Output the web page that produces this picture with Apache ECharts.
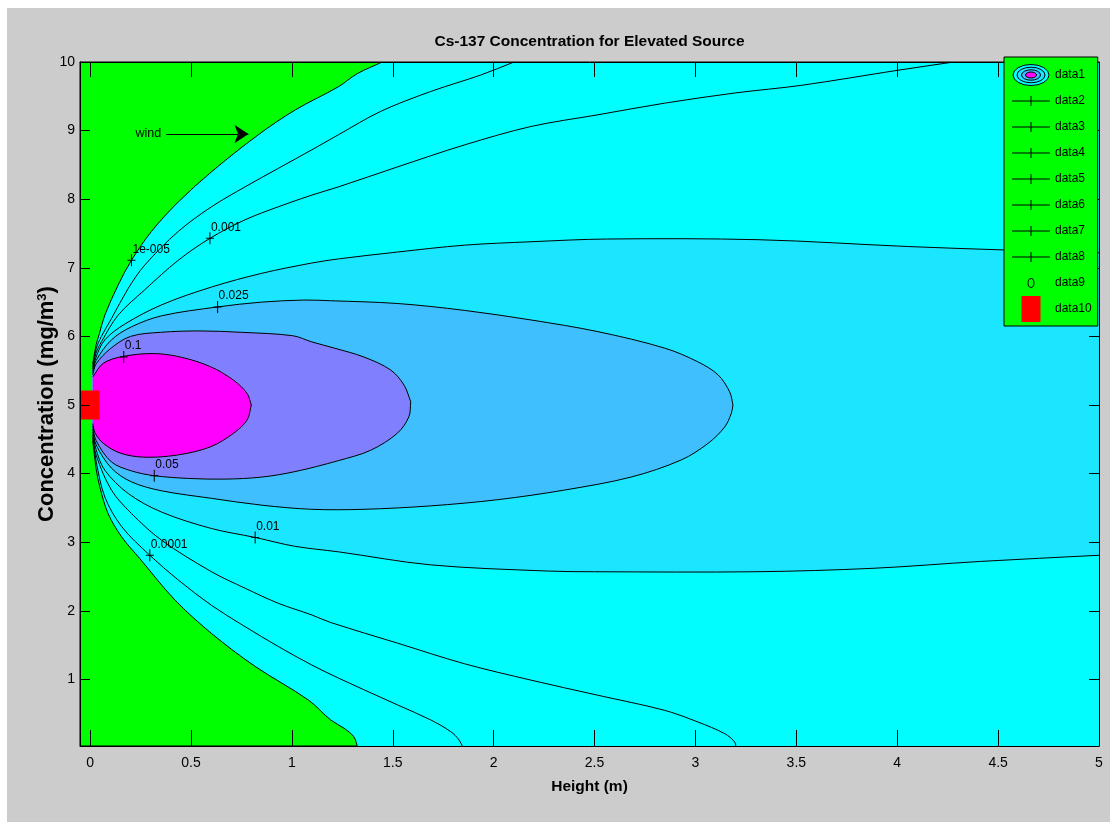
<!DOCTYPE html>
<html>
<head>
<meta charset="utf-8">
<script src="https://cdn.jsdelivr.net/npm/echarts@6/dist/echarts.min.js"></script>
<style>
html,body{margin:0;padding:0;background:#ffffff;}
#chart{width:1110px;height:822px;}
</style>
</head>
<body>
<div id="chart"></div>
<script>
// ---------------- DATA ----------------
const titleText = 'Cs-137 Concentration for Elevated Source';
const xAxisName = 'Height (m)';
const yAxisName = 'Concentration (mg/m{sup|3})';
const xTicks = [0, 0.5, 1, 1.5, 2, 2.5, 3, 3.5, 4, 4.5, 5];
const yTicks = [1, 2, 3, 4, 5, 6, 7, 8, 9, 10];

const levelValues = [1e-5, 1e-4, 1e-3, 0.01, 0.025, 0.05, 0.1];
const levelLabels = ['1e-005', '0.0001', '0.001', '0.01', '0.025', '0.05', '0.1'];
const levelLabelPoints = [[0.205, 7.11], [0.296, 2.81], [0.594, 7.43], [0.818, 3.07], [0.632, 6.43], [0.318, 3.97], [0.167, 5.70]];

// contour branches: upper branch / lower branch (from the source outward)
const c1e5Upper = [[0.013,5.60],[0.030,5.88],[0.046,6.04],[0.073,6.31],[0.139,6.75],[0.205,7.11],[0.304,7.53],[0.437,7.96],[0.602,8.40],[0.834,8.94],[1.016,9.30],[1.231,9.64],[1.324,9.83],[1.448,10]];
const c1e5Lower = [[0.013,4.48],[0.030,4.07],[0.048,3.81],[0.089,3.42],[0.156,3.08],[0.247,2.76],[0.420,2.16],[0.602,1.67],[0.818,1.19],[1.082,0.70],[1.192,0.41],[1.258,0.29],[1.307,0.165],[1.327,0]];
const c1e4Upper = [[0.013,5.56],[0.030,5.82],[0.056,6.00],[0.106,6.26],[0.189,6.70],[0.271,7.04],[0.437,7.53],[0.602,7.89],[0.768,8.18],[0.933,8.45],[1.099,8.72],[1.231,8.94],[1.440,9.28],[1.688,9.57],[1.936,9.81],[2.101,10]];
const c1e4Lower = [[0.013,4.53],[0.030,4.18],[0.073,3.66],[0.156,3.23],[0.296,2.81],[0.437,2.45],[0.602,2.08],[0.768,1.77],[0.933,1.48],[1.099,1.21],[1.231,1.02],[1.357,0.85],[1.523,0.63],[1.688,0.41],[1.787,0.24],[1.828,0.12],[1.850,0]];
const c1e3Upper = [[0.013,5.53],[0.030,5.76],[0.056,5.92],[0.139,6.31],[0.271,6.68],[0.437,7.11],[0.594,7.43],[0.768,7.70],[0.933,7.89],[1.099,8.06],[1.231,8.18],[1.523,8.47],[1.854,8.79],[2.185,9.06],[2.516,9.23],[2.847,9.40],[3.200,9.55],[3.525,9.66],[4.004,9.88],[4.279,10]];
const c1e3Lower = [[0.013,4.57],[0.030,4.27],[0.106,3.76],[0.205,3.42],[0.354,3.03],[0.602,2.57],[0.768,2.33],[0.933,2.11],[1.099,1.94],[1.192,1.83],[1.523,1.53],[1.854,1.23],[2.185,0.99],[2.516,0.77],[2.847,0.55],[3.012,0.38],[3.145,0.21],[3.194,0.09],[3.202,0]];
const c01Upper = [[0.013,5.50],[0.030,5.70],[0.073,5.95],[0.172,6.18],[0.354,6.46],[0.602,6.72],[0.851,6.92],[1.099,7.07],[1.231,7.13],[1.523,7.23],[1.854,7.33],[2.185,7.38],[2.565,7.42],[3.310,7.41],[4.057,7.31],[4.536,7.26],[5.0,7.22]];
const c01Lower = [[0.013,4.61],[0.030,4.35],[0.073,4.05],[0.189,3.71],[0.354,3.44],[0.602,3.20],[0.818,3.07],[1.016,2.94],[1.231,2.86],[1.688,2.67],[2.267,2.58],[2.500,2.57],[3.300,2.57],[3.880,2.62],[4.412,2.72],[5.0,2.81]];
const c025Upper = [[0.013,5.47],[0.030,5.65],[0.106,5.95],[0.205,6.14],[0.354,6.30],[0.632,6.43],[0.850,6.50],[1.059,6.53],[1.192,6.52],[1.523,6.48],[1.854,6.38],[2.185,6.24],[2.516,6.07],[2.847,5.83],[3.012,5.63],[3.112,5.44],[3.170,5.19],[3.186,5.0]];
const c025Lower = [[0.013,4.65],[0.030,4.42],[0.106,4.08],[0.205,3.88],[0.354,3.75],[0.602,3.64],[0.851,3.54],[1.099,3.48],[1.357,3.48],[1.688,3.53],[2.019,3.62],[2.350,3.76],[2.681,3.95],[2.930,4.20],[3.062,4.44],[3.145,4.68],[3.178,4.88],[3.186,5.0]];
const c05Upper = [[0.013,5.44],[0.030,5.60],[0.100,5.82],[0.200,6.00],[0.349,6.06],[0.544,6.08],[0.750,6.06],[1.005,6.01],[1.099,5.92],[1.210,5.83],[1.357,5.70],[1.490,5.51],[1.556,5.29],[1.589,5.05]];
const c05Lower = [[0.013,4.69],[0.030,4.48],[0.106,4.17],[0.205,4.04],[0.318,3.97],[0.487,3.93],[0.669,3.92],[0.851,3.95],[1.016,4.03],[1.231,4.19],[1.390,4.34],[1.523,4.59],[1.580,4.83],[1.589,5.05]];
const c1Upper = [[0.013,5.41],[0.066,5.61],[0.166,5.71],[0.315,5.75],[0.447,5.70],[0.596,5.56],[0.712,5.36],[0.778,5.17],[0.799,5.0]];
const c1Lower = [[0.013,4.73],[0.025,4.59],[0.066,4.44],[0.149,4.30],[0.265,4.24],[0.430,4.27],[0.596,4.39],[0.712,4.59],[0.778,4.78],[0.799,5.0]];
// plot corners used to close the open contours (from lower end round to upper end)
const closeOpen = [[5,0],[5,10]];

const sourcePoint = [0, 5];
const windArrow = [[0.377, 8.95], [0.785, 8.95]];
const windText = 'wind';

// ---------------- STYLES ----------------
const FONT = "'Liberation Sans',Arial,sans-serif";
const bandColors = ['#00ffff', '#00ffff', '#02fdff', '#1ae6ff', '#40bfff', '#8080ff', '#ff00ff'];

const contourUpper = [c1e5Upper, c1e4Upper, c1e3Upper, c01Upper, c025Upper, c05Upper, c1Upper];
const contourLower = [c1e5Lower, c1e4Lower, c1e3Lower, c01Lower, c025Lower, c05Lower, c1Lower];
const contourClose = [closeOpen, closeOpen, closeOpen, [], [], [], []];

const PLUS = 'path://M0,5.5H8V6.5H0ZM3.5,0H4.5V12H3.5Z';
const PLUS_LEGEND = 'path://M0,0L0,0M38,26L38,26M0,12.5H38V13.5H0ZM18.5,8H19.5V18H18.5Z';
const RING_LEGEND = 'path://M0,0L0,0M38,26L38,26M15.5,13A3.5,5,0,1,0,22.5,13A3.5,5,0,1,0,15.5,13ZM16.5,13A2.5,4,0,1,1,21.5,13A2.5,4,0,1,1,16.5,13Z';
const RECT_LEGEND = 'path://M0,0L0,0M38,26L38,26M9.5,0H28.5V26H9.5Z';
const svg1 = "<svg xmlns='http://www.w3.org/2000/svg' width='38' height='26' viewBox='0 0 38 26'>" +
  "<ellipse cx='19' cy='13' rx='18' ry='10.5' fill='#00ffff' stroke='#000' stroke-width='1'/>" +
  "<ellipse cx='19' cy='13' rx='14' ry='7.8' fill='#1ae6ff' stroke='#000' stroke-width='1'/>" +
  "<ellipse cx='19' cy='13' rx='9.5' ry='5.2' fill='#40bfff' stroke='#000' stroke-width='1'/>" +
  "<ellipse cx='19' cy='13' rx='5.5' ry='3' fill='#ff00ff' stroke='#000' stroke-width='1'/></svg>";
const ICON1 = 'image://data:image/svg+xml;charset=utf-8,' + encodeURIComponent(svg1);

// smooth curve through pixel points (chord-length tangents; same curve in both directions)
function curvePath(pts, move) {
  const n = pts.length;
  const d = [];
  for (let i = 0; i < n - 1; i++) {
    d.push(Math.hypot(pts[i + 1][0] - pts[i][0], pts[i + 1][1] - pts[i][1]) || 1e-6);
  }
  const m = pts.map((p, i) => {
    if (i === 0) return [(pts[1][0] - p[0]) / d[0], (pts[1][1] - p[1]) / d[0]];
    if (i === n - 1) return [(p[0] - pts[n - 2][0]) / d[n - 2], (p[1] - pts[n - 2][1]) / d[n - 2]];
    const s = d[i - 1] + d[i];
    return [(pts[i + 1][0] - pts[i - 1][0]) / s, (pts[i + 1][1] - pts[i - 1][1]) / s];
  });
  let str = (move ? 'M' : 'L') + pts[0][0] + ',' + pts[0][1];
  for (let i = 0; i < n - 1; i++) {
    const c1x = pts[i][0] + m[i][0] * d[i] / 3, c1y = pts[i][1] + m[i][1] * d[i] / 3;
    const c2x = pts[i + 1][0] - m[i + 1][0] * d[i] / 3, c2y = pts[i + 1][1] - m[i + 1][1] * d[i] / 3;
    str += 'C' + c1x + ',' + c1y + ',' + c2x + ',' + c2y + ',' + pts[i + 1][0] + ',' + pts[i + 1][1];
  }
  return str;
}

function renderContour(params, api) {
  const i = api.value(0);
  const up = contourUpper[i].map(p => api.coord(p));
  const low = contourLower[i].map(p => api.coord(p));
  const close = contourClose[i].map(p => api.coord(p));
  let area = curvePath(up.slice().reverse(), true) + curvePath(low, false);
  close.forEach(p => { area += 'L' + p[0] + ',' + p[1]; });
  area += 'Z';
  return {
    type: 'group',
    children: [
      { type: 'path', z2: i, shape: { pathData: area }, style: { fill: bandColors[i], stroke: null } },
      { type: 'path', z2: 100 + i, shape: { pathData: curvePath(up, true) }, style: { fill: null, stroke: '#000', lineWidth: 1 } },
      { type: 'path', z2: 100 + i, shape: { pathData: curvePath(low, true) }, style: { fill: null, stroke: '#000', lineWidth: 1 } }
    ]
  };
}

const chart = echarts.init(document.getElementById('chart'), null, { renderer: 'canvas', width: 1110, height: 822 });

const labelSeries = levelLabelPoints.map((p, i) => ({
  name: 'data' + (i + 2),
  type: 'scatter',
  z: 3,
  silent: true,
  data: [p],
  symbol: PLUS,
  symbolSize: [8, 12],
  symbolKeepAspect: false,
  itemStyle: { color: '#000', opacity: 1, borderWidth: 0 },
  label: {
    show: true, position: 'right', distance: 0, offset: [-3, -11],
    formatter: levelLabels[i], color: '#000', fontFamily: FONT, fontSize: 12
  },
  emphasis: { disabled: true }
}));

const axisCommon = {
  type: 'value', z: 6,
  axisLine: { show: true, onZero: false, lineStyle: { color: '#000', width: 1 } },
  splitLine: { show: false }
};

const option = {
  animation: false,
  backgroundColor: '#ffffff',
  textStyle: { fontFamily: FONT },
  graphic: [{
    type: 'rect', left: 7, top: 8, z: -10, silent: true,
    shape: { width: 1103, height: 814 },
    style: { fill: '#cccccc' }
  }],
  title: {
    text: titleText, left: 589.5, top: 33.5, textAlign: 'center', padding: 0,
    textStyle: { fontFamily: FONT, fontWeight: 'bold', fontSize: 15.5, color: '#000' }
  },
  grid: {
    left: 80, right: 11, top: 62, bottom: 76,
    show: true, backgroundColor: '#00ff00', borderColor: '#000', borderWidth: 1,
    outerBoundsMode: 'none', containLabel: false
  },
  legend: {
    orient: 'vertical', left: 1004, top: 57, z: 10,
    padding: [5, 6, 4, 8], itemGap: 0, itemWidth: 38, itemHeight: 26,
    backgroundColor: '#00ff00', borderColor: '#000', borderWidth: 1, borderRadius: 0,
    selectedMode: false,
    textStyle: { fontFamily: FONT, fontSize: 12, color: '#000' },
    data: [
      { name: 'data1', icon: ICON1 },
      { name: 'data2', icon: PLUS_LEGEND },
      { name: 'data3', icon: PLUS_LEGEND },
      { name: 'data4', icon: PLUS_LEGEND },
      { name: 'data5', icon: PLUS_LEGEND },
      { name: 'data6', icon: PLUS_LEGEND },
      { name: 'data7', icon: PLUS_LEGEND },
      { name: 'data8', icon: PLUS_LEGEND },
      { name: 'data9', icon: RING_LEGEND },
      { name: 'data10', icon: RECT_LEGEND }
    ]
  },
  xAxis: [
    Object.assign({}, axisCommon, {
      min: -0.05, max: 5, position: 'bottom',
      axisTick: { show: true, inside: true, length: 16, customValues: xTicks, lineStyle: { color: '#000' } },
      axisLabel: { show: true, customValues: xTicks, margin: 10, color: '#000', fontFamily: FONT, fontSize: 14 },
      name: xAxisName, nameLocation: 'middle', nameGap: 33, nameMoveOverlap: false,
      nameTextStyle: { fontFamily: FONT, fontWeight: 'bold', fontSize: 15.5, color: '#000' }
    }),
    Object.assign({}, axisCommon, {
      min: -0.05, max: 5, position: 'top',
      axisTick: { show: true, inside: true, length: 15, customValues: xTicks, lineStyle: { color: '#000' } },
      axisLabel: { show: false }
    })
  ],
  yAxis: [
    Object.assign({}, axisCommon, {
      min: 0.03, max: 10, position: 'left',
      axisTick: { show: true, inside: true, length: 10, customValues: yTicks, lineStyle: { color: '#000' } },
      axisLabel: { show: true, customValues: yTicks, margin: 5, color: '#000', fontFamily: FONT, fontSize: 14 },
      name: yAxisName, nameLocation: 'middle', nameGap: 22, nameMoveOverlap: false,
      nameTextStyle: {
        fontFamily: FONT, fontWeight: 'bold', fontSize: 22, color: '#000',
        rich: { sup: { fontFamily: FONT, fontWeight: 'bold', fontSize: 13, color: '#000', verticalAlign: 'top' } }
      }
    }),
    Object.assign({}, axisCommon, {
      min: 0.03, max: 10, position: 'right',
      axisTick: { show: true, inside: true, length: 10, customValues: yTicks, lineStyle: { color: '#000' } },
      axisLabel: { show: false }
    })
  ],
  series: [
    {
      name: 'data1', type: 'custom', z: 1, silent: true, clip: true,
      xAxisIndex: 0, yAxisIndex: 0,
      renderItem: renderContour,
      data: levelValues.map((v, i) => [i, v])
    }
  ].concat(labelSeries).concat([
    {
      name: 'data9', type: 'scatter', z: 3, silent: true,
      data: [sourcePoint], symbol: 'emptyCircle', symbolSize: 8,
      itemStyle: { color: '#000', opacity: 1 },
      emphasis: { disabled: true },
      markLine: {
        silent: true, z: 5,
        symbol: ['none', 'arrow'], symbolSize: 14,
        lineStyle: { color: '#000', width: 1, type: 'solid' },
        label: { show: true, position: 'start', formatter: windText, distance: 5, color: '#000', fontFamily: FONT, fontSize: 12.5 },
        emphasis: { disabled: true },
        data: [[{ coord: windArrow[0] }, { coord: windArrow[1] }]]
      }
    },
    {
      name: 'data10', type: 'scatter', z: 4, silent: true,
      data: [sourcePoint], symbol: 'rect', symbolSize: [19, 29],
      itemStyle: { color: '#ff0000', opacity: 1 },
      emphasis: { disabled: true }
    }
  ])
};

chart.setOption(option);
</script>
</body>
</html>
